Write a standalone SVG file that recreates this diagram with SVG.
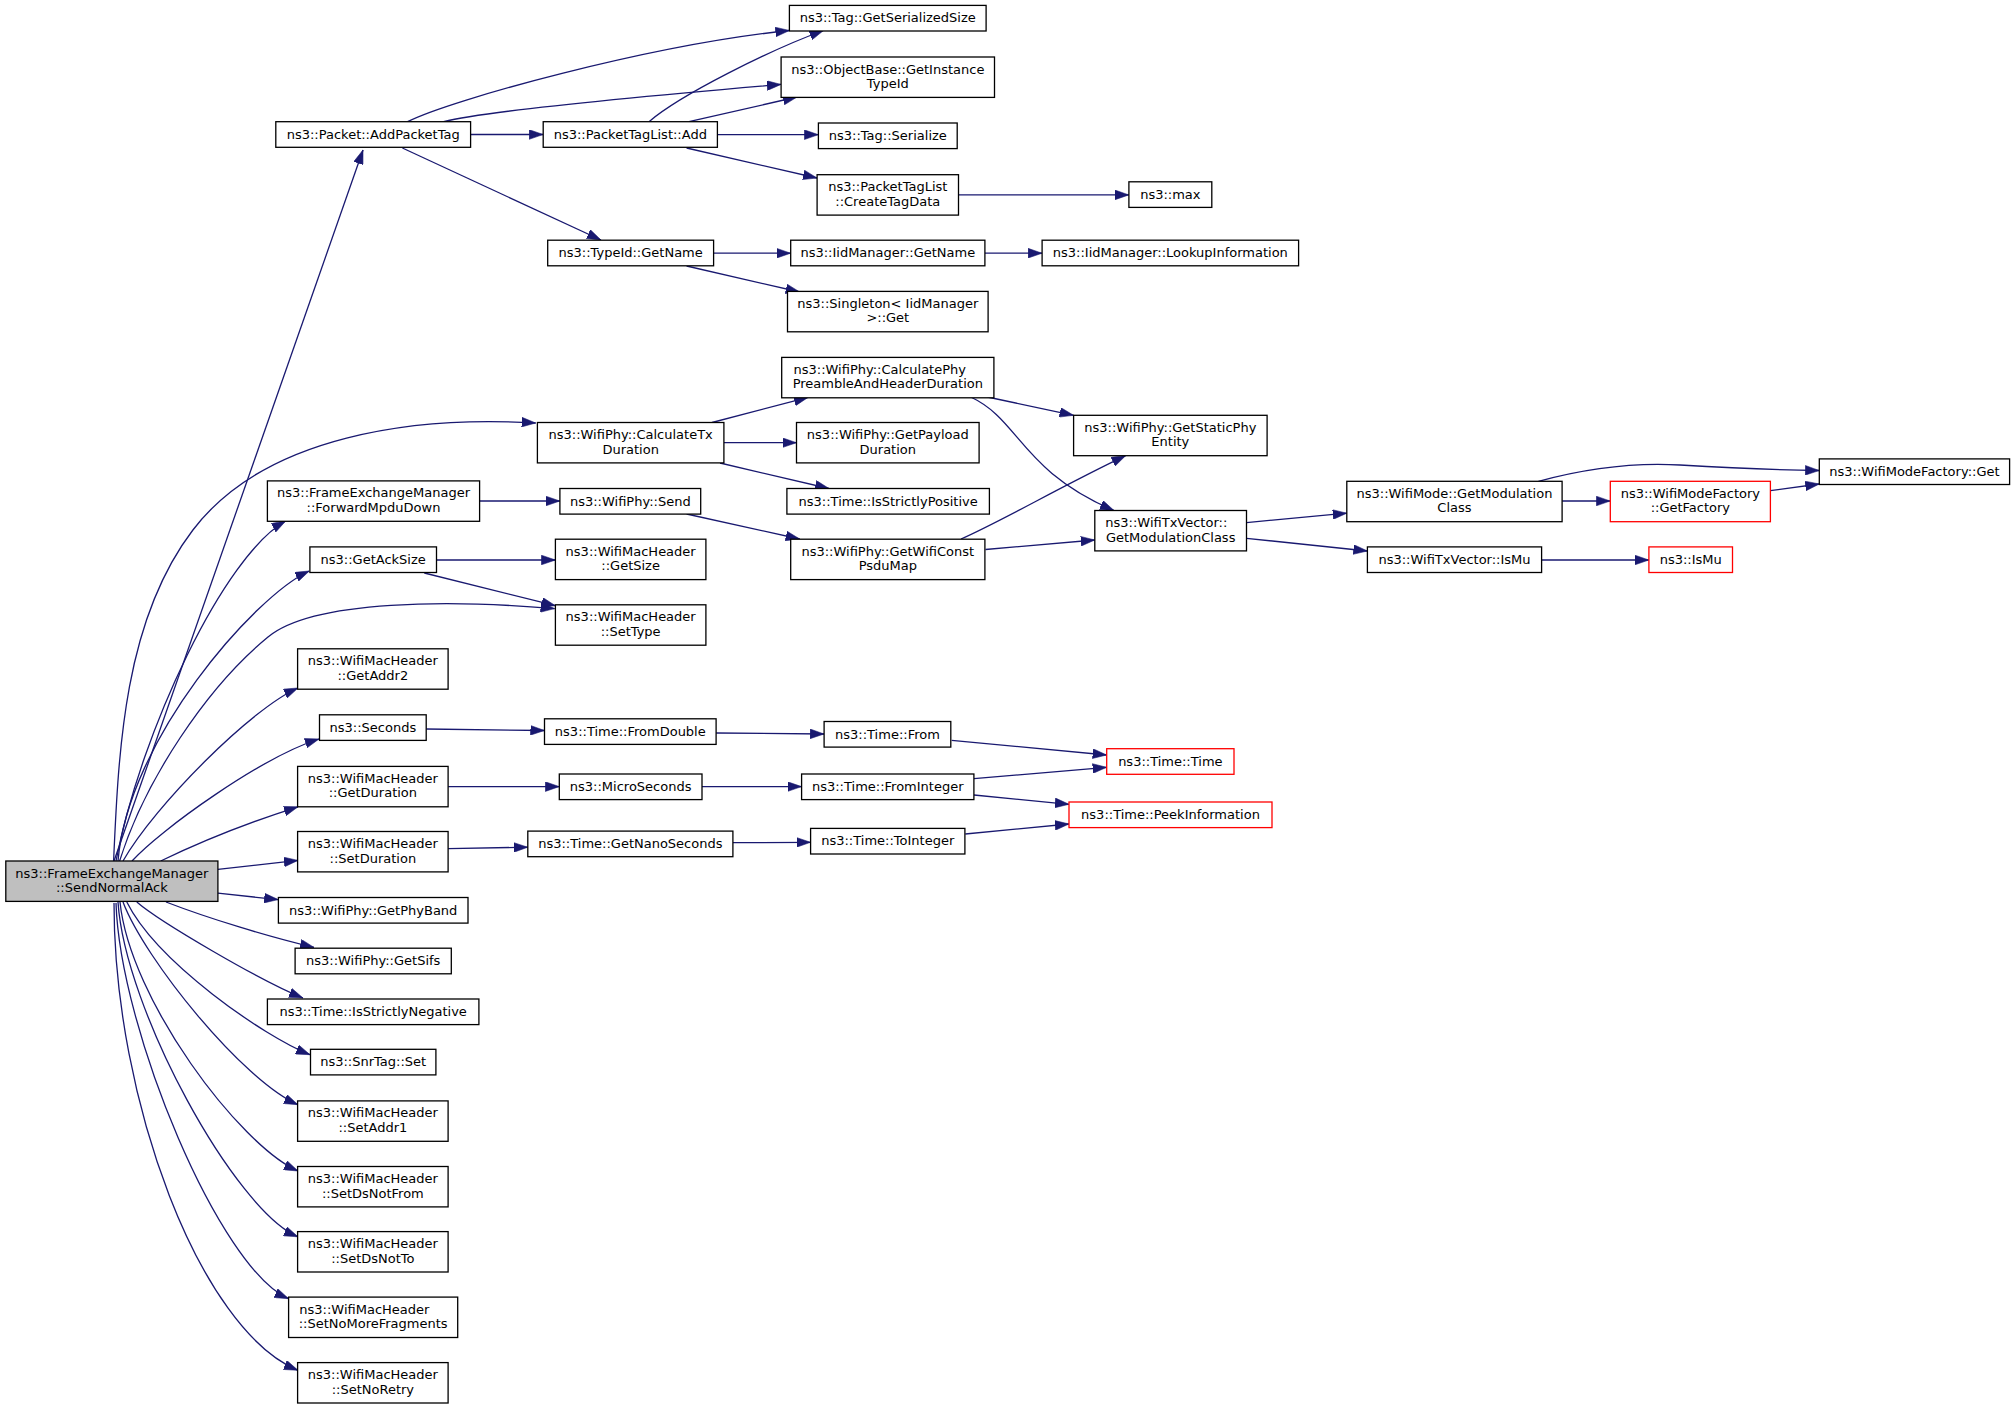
<svg xmlns="http://www.w3.org/2000/svg" width="2016" height="1408" viewBox="0 0 2016 1408">
<style>
rect{fill:#fff;stroke:#000;stroke-width:1.3}
rect.g{fill:#bfbfbf}
rect.r{stroke:#ff0000}
text{font-family:"DejaVu Sans","Liberation Sans",sans-serif;font-size:13px;text-anchor:middle;fill:#000}
text.l{text-anchor:start}
#edges path{fill:none;stroke:#191970;stroke-width:1.3;marker-end:url(#a)}
</style>
<defs>
<marker id="a" markerUnits="userSpaceOnUse" markerWidth="14" markerHeight="10" viewBox="0 0 13 9" refX="13" refY="4.5" orient="auto">
<path d="M0,0 L13,4.5 L0,9 z" fill="#191970" stroke="#191970" stroke-width="0.5"/>
</marker>
</defs>
<rect x="0" y="0" width="2016" height="1408" style="fill:#fff;stroke:none"/>
<g id="edges">
<path d="M114,861 L363,150"/>
<path d="M113.6,861 C118.6,748 124.4,619.8 192.9,530 C265.6,434.6 415.7,415.8 535.7,423"/>
<path d="M116,861 C141,731 224.5,554.8 285.7,521"/>
<path d="M118,861 C128,740 254.7,595.9 309.3,571"/>
<path d="M119.6,861 C144.6,781 206.2,687.7 268,637 C314,599 454.6,600.2 554.6,608.6"/>
<path d="M123,861 C155,805 252,708 298,688"/>
<path d="M132,861 C160,830 261.8,757 319,739"/>
<path d="M160.7,861 C200,842 250,822 298,806.8"/>
<path d="M217.9,869.3 L298,860.4"/>
<path d="M217.9,893.2 L278.2,899.6"/>
<path d="M166,902 C210,919 270,937 314,947.4"/>
<path d="M136.8,902 C160,922 261.2,981.3 303,998"/>
<path d="M126.8,902 C156.8,962 263.5,1036.2 310,1054.7"/>
<path d="M123,902 C145,960 243,1080.7 298,1104.7"/>
<path d="M120,902 C130,1000 239.5,1145 298,1171"/>
<path d="M118,902 C125,1010 235,1210.2 298,1236.8"/>
<path d="M116,903 C120,1030 219.6,1268.7 288.6,1298.7"/>
<path d="M114,903 C114,1100 200,1330 298,1370.3"/>
<path d="M407.6,121.7 C450,100 650,45 789.4,30.5"/>
<path d="M443.6,121.7 C490,110 680,93 781,84.4"/>
<path d="M470.6,134.5 L543.2,134.5"/>
<path d="M402.4,148 L601,240"/>
<path d="M649,121.7 C680,95 770,50 823.5,30.5"/>
<path d="M689,121.7 L797,97"/>
<path d="M717.4,134.7 L818.4,134.7"/>
<path d="M686.6,148 L817,178"/>
<path d="M958.5,194.9 L1128.9,194.9"/>
<path d="M713.6,253.2 L790.7,253.2"/>
<path d="M686.6,266 L799.7,292"/>
<path d="M984.9,253.2 L1042.1,253.2"/>
<path d="M712,422.5 L808,397.4"/>
<path d="M723.9,442.7 L796.5,442.7"/>
<path d="M720,463 L829,488.5"/>
<path d="M987.4,397 L1073.6,415.3"/>
<path d="M970.7,397 C1020,420 1020,470 1114,510.5"/>
<path d="M479.6,501 L559.9,501"/>
<path d="M686.6,514 L799.7,539"/>
<path d="M436.5,560 L555.4,560"/>
<path d="M424.3,573 L555.4,605.7"/>
<path d="M961,539 C1000,522 1060,487 1125.6,455.7"/>
<path d="M985.5,549.5 L1094.8,540"/>
<path d="M1246.5,522.6 L1346.8,513.2"/>
<path d="M1246.5,538.3 L1367.4,551"/>
<path d="M1538.4,481.3 C1580,470 1630,462 1680,465 C1730,468 1780,470 1819.3,470.5"/>
<path d="M1562.1,501 L1610.3,501"/>
<path d="M1770.4,490.7 L1819.3,484"/>
<path d="M1541.6,560 L1648.9,560"/>
<path d="M426.2,729 L544.5,730.5"/>
<path d="M716.1,733 L824.1,734"/>
<path d="M951.7,740.3 L1106.7,755"/>
<path d="M448.1,786.6 L559.3,786.6"/>
<path d="M702,786.6 L801.6,786.6"/>
<path d="M974,778.7 L1106.7,767.3"/>
<path d="M974,795 L1069,804.3"/>
<path d="M448.1,848.6 L527.8,847.2"/>
<path d="M732.9,842.7 L810.6,842.3"/>
<path d="M965.3,834 L1069,824"/>
</g>
<g id="n1"><rect class="g" x="5.8" y="861" width="212.1" height="40.4"/><text x="111.85" y="877.5">ns3::FrameExchangeManager</text><text x="111.85" y="892">::SendNormalAck</text></g>
<g id="n2"><rect x="275.8" y="121.7" width="194.8" height="25.6"/><text x="373.2" y="138.7">ns3::Packet::AddPacketTag</text></g>
<g id="n3"><rect x="543.2" y="121.7" width="174.2" height="25.6"/><text x="630.3" y="138.7">ns3::PacketTagList::Add</text></g>
<g id="n4"><rect x="789.4" y="5.4" width="196.7" height="25.6"/><text x="887.75" y="22.4">ns3::Tag::GetSerializedSize</text></g>
<g id="n5"><rect x="781.1" y="57" width="213.4" height="40.4"/><text x="887.8" y="73.5">ns3::ObjectBase::GetInstance</text><text x="887.8" y="88">TypeId</text></g>
<g id="n6"><rect x="818.4" y="123" width="138.8" height="25.6"/><text x="887.8" y="140">ns3::Tag::Serialize</text></g>
<g id="n7"><rect x="817.1" y="174.7" width="141.4" height="40.4"/><text x="887.8" y="191.2">ns3::PacketTagList</text><text x="887.8" y="205.7">::CreateTagData</text></g>
<g id="n8"><rect x="1128.9" y="181.8" width="82.9" height="25.6"/><text x="1170.35" y="198.8">ns3::max</text></g>
<g id="n9"><rect x="547.7" y="240.2" width="165.9" height="25.6"/><text x="630.65" y="257.2">ns3::TypeId::GetName</text></g>
<g id="n10"><rect x="790.7" y="240.2" width="194.2" height="25.6"/><text x="887.8" y="257.2">ns3::IidManager::GetName</text></g>
<g id="n11"><rect x="1042.1" y="240.2" width="256.5" height="25.6"/><text x="1170.35" y="257.2">ns3::IidManager::LookupInformation</text></g>
<g id="n12"><rect x="787.5" y="291.4" width="200.6" height="40.4"/><text x="887.8" y="307.9">ns3::Singleton&lt; IidManager</text><text x="887.8" y="322.4">&gt;::Get</text></g>
<g id="n13"><rect x="781.7" y="357.4" width="212.2" height="40.4"/><text class="l" x="793.5" y="373.9">ns3::WifiPhy::CalculatePhy</text><text x="887.8" y="388.4">PreambleAndHeaderDuration</text></g>
<g id="n14"><rect x="537.4" y="422.5" width="186.5" height="40.4"/><text x="630.65" y="439">ns3::WifiPhy::CalculateTx</text><text x="630.65" y="453.5">Duration</text></g>
<g id="n15"><rect x="796.5" y="422.5" width="182.6" height="40.4"/><text x="887.8" y="439">ns3::WifiPhy::GetPayload</text><text x="887.8" y="453.5">Duration</text></g>
<g id="n16"><rect x="1073.6" y="415.3" width="193.5" height="40.4"/><text x="1170.35" y="431.8">ns3::WifiPhy::GetStaticPhy</text><text x="1170.35" y="446.3">Entity</text></g>
<g id="n17"><rect x="267.4" y="480.9" width="212.2" height="40.4"/><text x="373.5" y="497.4">ns3::FrameExchangeManager</text><text x="373.5" y="511.9">::ForwardMpduDown</text></g>
<g id="n18"><rect x="559.9" y="488.5" width="140.8" height="25.6"/><text x="630.3" y="505.5">ns3::WifiPhy::Send</text></g>
<g id="n19"><rect x="786.9" y="488.5" width="202.5" height="25.6"/><text x="888.15" y="505.5">ns3::Time::IsStrictlyPositive</text></g>
<g id="n20"><rect x="1819.3" y="458.9" width="190.3" height="25.6"/><text x="1914.45" y="475.9">ns3::WifiModeFactory::Get</text></g>
<g id="n21"><rect x="1346.8" y="481.3" width="215.3" height="40.4"/><text x="1454.45" y="497.8">ns3::WifiMode::GetModulation</text><text x="1454.45" y="512.3">Class</text></g>
<g id="n22"><rect class="r" x="1610.3" y="481.3" width="160.1" height="40.4"/><text x="1690.35" y="497.8">ns3::WifiModeFactory</text><text x="1690.35" y="512.3">::GetFactory</text></g>
<g id="n23"><rect x="1094.8" y="510.5" width="151.7" height="40.4"/><text class="l" x="1105.3" y="527">ns3::WifiTxVector::</text><text x="1170.65" y="541.5">GetModulationClass</text></g>
<g id="n24"><rect x="309.9" y="546.9" width="126.6" height="25.6"/><text x="373.2" y="563.9">ns3::GetAckSize</text></g>
<g id="n25"><rect x="555.4" y="539.2" width="150.5" height="40.4"/><text x="630.65" y="555.7">ns3::WifiMacHeader</text><text x="630.65" y="570.2">::GetSize</text></g>
<g id="n26"><rect x="790.7" y="539.2" width="194.2" height="40.4"/><text x="887.8" y="555.7">ns3::WifiPhy::GetWifiConst</text><text x="887.8" y="570.2">PsduMap</text></g>
<g id="n27"><rect x="1367.4" y="546.9" width="174.2" height="25.6"/><text x="1454.5" y="563.9">ns3::WifiTxVector::IsMu</text></g>
<g id="n28"><rect class="r" x="1648.9" y="546.9" width="83.6" height="25.6"/><text x="1690.7" y="563.9">ns3::IsMu</text></g>
<g id="n29"><rect x="555.4" y="604.8" width="150.5" height="40.4"/><text x="630.65" y="621.3">ns3::WifiMacHeader</text><text x="630.65" y="635.8">::SetType</text></g>
<g id="n30"><rect x="297.6" y="648.8" width="150.5" height="40.4"/><text x="372.85" y="665.3">ns3::WifiMacHeader</text><text x="372.85" y="679.8">::GetAddr2</text></g>
<g id="n31"><rect x="319.5" y="714.8" width="106.7" height="25.6"/><text x="372.85" y="731.8">ns3::Seconds</text></g>
<g id="n32"><rect x="544.5" y="718.8" width="171.6" height="25.6"/><text x="630.3" y="735.8">ns3::Time::FromDouble</text></g>
<g id="n33"><rect x="824.1" y="721.5" width="126.7" height="25.6"/><text x="887.45" y="738.5">ns3::Time::From</text></g>
<g id="n34"><rect class="r" x="1106.7" y="748.7" width="127.3" height="25.6"/><text x="1170.35" y="765.7">ns3::Time::Time</text></g>
<g id="n35"><rect x="297.6" y="766.4" width="150.5" height="40.4"/><text x="372.85" y="782.9">ns3::WifiMacHeader</text><text x="372.85" y="797.4">::GetDuration</text></g>
<g id="n36"><rect x="559.3" y="774" width="142.7" height="25.6"/><text x="630.65" y="791">ns3::MicroSeconds</text></g>
<g id="n37"><rect x="801.6" y="774" width="172.3" height="25.6"/><text x="887.75" y="791">ns3::Time::FromInteger</text></g>
<g id="n38"><rect class="r" x="1069" y="802" width="203" height="25.6"/><text x="1170.5" y="819">ns3::Time::PeekInformation</text></g>
<g id="n39"><rect x="297.6" y="831.5" width="150.5" height="40.4"/><text x="372.85" y="848">ns3::WifiMacHeader</text><text x="372.85" y="862.5">::SetDuration</text></g>
<g id="n40"><rect x="527.8" y="831.1" width="205.1" height="25.6"/><text x="630.35" y="848.1">ns3::Time::GetNanoSeconds</text></g>
<g id="n41"><rect x="810.6" y="828.4" width="154.3" height="25.6"/><text x="887.75" y="845.4">ns3::Time::ToInteger</text></g>
<g id="n42"><rect x="278.4" y="897.5" width="189.6" height="25.6"/><text x="373.2" y="914.5">ns3::WifiPhy::GetPhyBand</text></g>
<g id="n43"><rect x="295.1" y="948.2" width="156.2" height="25.6"/><text x="373.2" y="965.2">ns3::WifiPhy::GetSifs</text></g>
<g id="n44"><rect x="267.4" y="999" width="211.5" height="25.6"/><text x="373.15" y="1016">ns3::Time::IsStrictlyNegative</text></g>
<g id="n45"><rect x="310.5" y="1049.3" width="125.4" height="25.6"/><text x="373.2" y="1066.3">ns3::SnrTag::Set</text></g>
<g id="n46"><rect x="297.6" y="1100.9" width="150.5" height="40.4"/><text x="372.85" y="1117.4">ns3::WifiMacHeader</text><text x="372.85" y="1131.9">::SetAddr1</text></g>
<g id="n47"><rect x="297.6" y="1166.5" width="150.5" height="40.4"/><text x="372.85" y="1183">ns3::WifiMacHeader</text><text x="372.85" y="1197.5">::SetDsNotFrom</text></g>
<g id="n48"><rect x="297.6" y="1231.6" width="150.5" height="40.4"/><text x="372.85" y="1248.1">ns3::WifiMacHeader</text><text x="372.85" y="1262.6">::SetDsNotTo</text></g>
<g id="n49"><rect x="288.6" y="1297.1" width="169.1" height="40.4"/><text class="l" x="299.3" y="1313.6">ns3::WifiMacHeader</text><text x="373.15" y="1328.1">::SetNoMoreFragments</text></g>
<g id="n50"><rect x="297.6" y="1362.6" width="150.5" height="40.4"/><text x="372.85" y="1379.1">ns3::WifiMacHeader</text><text x="372.85" y="1393.6">::SetNoRetry</text></g>
</svg>
